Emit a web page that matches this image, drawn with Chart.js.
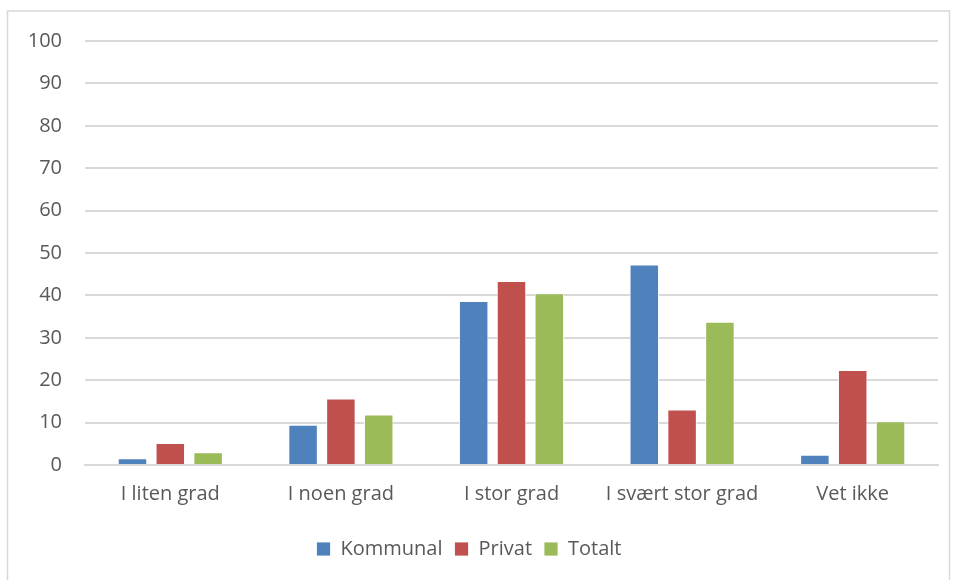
<!DOCTYPE html>
<html>
<head>
<meta charset="utf-8">
<script src="https://cdn.jsdelivr.net/npm/chart.js@4.4.0/dist/chart.umd.min.js"></script>
<style>
  html, body { margin: 0; padding: 0; background: #fff; }
  #wrap { width: 954px; height: 580px; }
</style>
</head>
<body>
<div id="wrap"><canvas id="myChart"></canvas></div>
<script>
var categories = ['I liten grad', 'I noen grad', 'I stor grad', 'I svært stor grad', 'Vet ikke'];
var kommunal = [1.6, 9.5, 38.7, 47.3, 2.4];
var privat = [5.2, 15.7, 43.4, 13.1, 22.4];
var totalt = [3.0, 11.9, 40.5, 33.8, 10.3];
var yTicks = [0, 10, 20, 30, 40, 50, 60, 70, 80, 90, 100];

var textColor = '#595959';
var gridColor = '#d9d9d9';
var fontFamily = '"Open Sans", "Liberation Sans", sans-serif';

// frame around the chart area
var framePlugin = {
  id: 'frame',
  beforeDraw: function(chart) {
    var c = chart.ctx;
    c.save();
    c.fillStyle = '#fff';
    c.fillRect(0, 0, chart.width, chart.height);
    c.strokeStyle = '#d9d9d9';
    c.lineWidth = 1.5;
    c.strokeRect(7.5, 11, 942, 580);
    c.restore();
  }
};

function makeSet(label, data, color) {
  return {
    label: label,
    data: data,
    backgroundColor: color,
    borderColor: 'rgba(255,255,255,0.8)',
    borderWidth: 1,
    categoryPercentage: 0.665,
    barPercentage: 0.78
  };
}

var ctx = document.getElementById('myChart');
var myChart = new Chart(ctx, {
  type: 'bar',
  data: {
    labels: categories,
    datasets: [
      makeSet('Kommunal', kommunal, '#4f81bd'),
      makeSet('Privat', privat, '#c0504d'),
      makeSet('Totalt', totalt, '#9bbb59')
    ]
  },
  options: {
    responsive: true,
    maintainAspectRatio: false,
    animation: false,
    layout: { padding: { top: 41, right: 16, bottom: 11, left: 0 } },
    plugins: {
      tooltip: { enabled: false },
      legend: {
        position: 'bottom',
        labels: {
          color: textColor,
          font: { family: fontFamily, size: 20 },
          boxWidth: 14,
          boxHeight: 14,
          padding: 12
        }
      }
    },
    scales: {
      x: {
        grid: { display: false, drawTicks: false },
        border: { color: gridColor, width: 2 },
        ticks: { color: textColor, font: { family: fontFamily, size: 20 }, padding: 17, maxRotation: 0 },
        afterFit: function(scale) { scale.height = 62; }
      },
      y: {
        min: 0,
        max: 100,
        afterBuildTicks: function(scale) {
          scale.ticks = yTicks.map(function(v) { return { value: v }; });
        },
        grid: { color: gridColor, lineWidth: 2, drawTicks: false },
        border: { display: false },
        ticks: { color: textColor, font: { family: fontFamily, size: 20 }, padding: 23 },
        afterFit: function(scale) { scale.width = 85; }
      }
    }
  },
  plugins: [framePlugin]
});
</script>
</body>
</html>
